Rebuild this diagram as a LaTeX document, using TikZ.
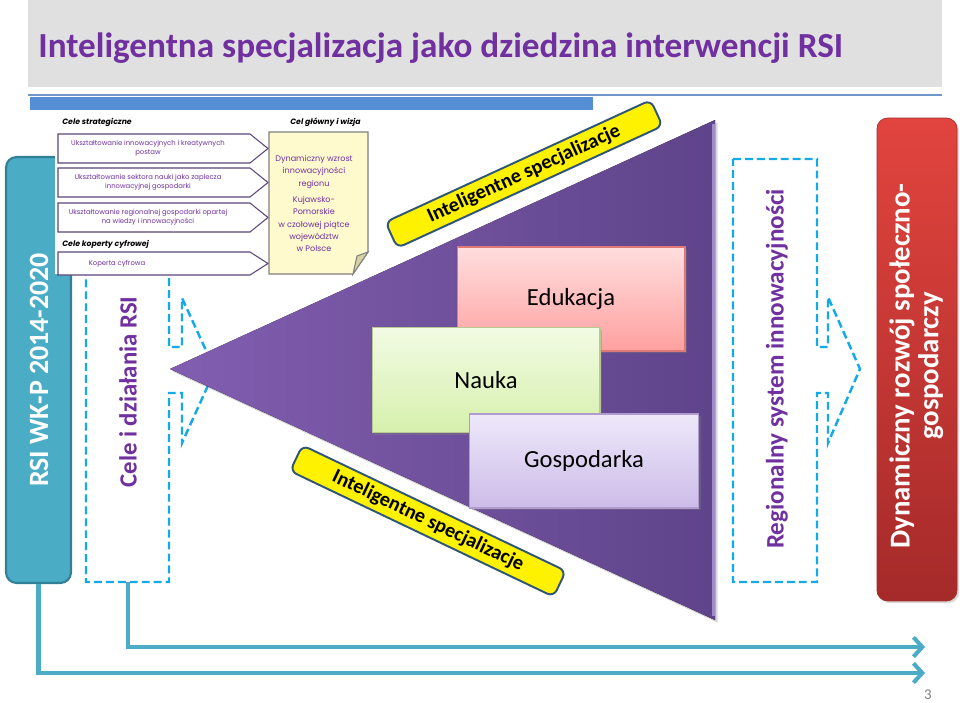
\documentclass[tikz,border=0pt]{standalone}
\usepackage{fontspec}
\usepackage{graphicx}
\setmainfont{Carlito}
\newfontfamily\gothic{Poppins}
\usetikzlibrary{arrows.meta,shadows,calc}
\definecolor{ttl}{RGB}{112,48,160}
\definecolor{graybar}{RGB}{224,224,224}
\definecolor{bluebar}{RGB}{85,142,213}
\definecolor{blueline}{RGB}{110,150,200}
\definecolor{tealc}{RGB}{75,172,198}
\definecolor{tealdark}{RGB}{49,128,150}
\definecolor{dashc}{RGB}{20,170,228}
\definecolor{triL}{RGB}{130,94,176}
\definecolor{triR}{RGB}{94,68,138}
\definecolor{triedge}{RGB}{160,140,200}
\definecolor{bannerb}{RGB}{47,85,120}
\definecolor{boxline}{RGB}{90,70,120}
\definecolor{notefill}{RGB}{255,250,205}
\definecolor{notefold}{RGB}{215,210,160}
\definecolor{redtop}{RGB}{226,68,62}
\definecolor{redbot}{RGB}{165,42,42}
\tikzset{
  dashbox/.style={draw=dashc, line width=1.4pt, dash pattern=on 4.5pt off 2.3pt},
  tealarrow/.style={draw=tealc, line width=2.3pt, -{Straight Barb[length=5pt,width=11pt]}},
  panelbox/.style={draw=boxline, line width=0.6pt, fill=white},
  paneltext/.style={text=ttl, font=\gothic\fontsize{3.9}{5.2}\selectfont, align=center, inner sep=0pt},
  panellabel/.style={font=\gothic\bfseries\itshape\fontsize{4.4}{5}\selectfont, anchor=west, inner sep=0pt},
  banner/.style={draw=bannerb, line width=1.1pt, fill=yellow, rounded corners=4pt,
     minimum width=5.84cm, minimum height=0.57cm, inner sep=0pt,
     font=\bfseries\fontsize{11.5}{12}\selectfont},
  fieldbox/.style={draw, line width=0.6pt, minimum width=4.56cm, inner sep=0pt,
     font=\fontsize{14}{16}\selectfont,
     drop shadow={shadow xshift=1.2pt, shadow yshift=-1.2pt, opacity=0.35}},
}
\begin{document}
\begin{tikzpicture}[x=0.02cm,y=-0.02cm]
\useasboundingbox (0,0) rectangle (960,703);
\fill[white] (0,0) rectangle (960,703);
% title
\fill[graybar] (28,0) rectangle (942,87);
\node[anchor=base west, inner sep=0pt, text=ttl] (title) at (38,57)
  {\resizebox{16.1cm}{!}{\bfseries Inteligentna specjalizacja jako dziedzina interwencji RSI}};
\draw[blueline, line width=1pt] (28,95) -- (942,95);
\fill[bluebar] (30,97) rectangle (593,110);
% teal box
\node[draw=tealdark, fill=tealc, line width=1.2pt, rounded corners=6pt,
  minimum width=1.3cm, minimum height=8.52cm, inner sep=0pt] (rsi) at (38.5,370) {};
\node[rotate=90, text=white, inner sep=0pt] (rsitext) at (39,370)
  {\resizebox{4.68cm}{!}{\bfseries RSI WK-P 2014-2020}};
% dashed box 1
\draw[dashbox] (86,158) -- (169,158) -- (169,347) -- (182,347) -- (182,298) -- (215,370)
  -- (182,443) -- (182,393) -- (169,393) -- (169,582) -- (86,582) -- cycle;
\node[rotate=90, text=ttl, inner sep=0pt] (celetext) at (128,392)
  {\resizebox{3.82cm}{!}{\bfseries Cele i działania RSI}};
\coordinate (celebot) at (128,582);
% white panel
\fill[white] (55,111) rectangle (372,274);
\node[panellabel] (lab1) at (62,122) {Cele strategiczne};
\node[panellabel] (lab2) at (290,122) {Cel główny i wizja};
\node[panellabel] (lab3) at (62,244) {Cele koperty cyfrowej};
\draw[panelbox] (58,134) -- (250,134) -- (268,148.5) -- (250,163) -- (58,163) -- cycle;
\draw[panelbox] (58,168) -- (250,168) -- (268,182.5) -- (250,197) -- (58,197) -- cycle;
\draw[panelbox] (58,203) -- (250,203) -- (268,217.5) -- (250,232) -- (58,232) -- cycle;
\draw[panelbox] (58,252) -- (250,252) -- (268,263.5) -- (250,275) -- (58,275) -- cycle;
\node[paneltext] (p1) at (148,148.5) {Ukształtowanie innowacyjnych i kreatywnych\\postaw};
\node[paneltext] (p2) at (148,182.5) {Ukształtowanie sektora nauki jako zaplecza\\innowacyjnej gospodarki};
\node[paneltext] (p3) at (148,217.5) {Ukształtowanie regionalnej gospodarki opartej\\na wiedzy i innowacyjności};
\node[paneltext] (p4) at (117,264) {Koperta cyfrowa};
% note
\draw[fill=notefill, draw=gray, line width=0.6pt] (269,132) -- (368,132) -- (368,252) -- (353,274) -- (269,274) -- cycle;
\draw[fill=notefold, draw=gray, line width=0.6pt] (353,274) -- (357,256) -- (368,252) -- cycle;
\node[paneltext, font=\gothic\fontsize{4.6}{6.9}\selectfont] (n1) at (314,172) {Dynamiczny wzrost\\innowacyjności\\regionu};
\node[paneltext, font=\gothic\fontsize{4.6}{6.9}\selectfont] (n2) at (314,224) {Kujawsko-\\Pomorskie\\w czołowej piątce\\województw\\w Polsce};
% triangle
\fill[left color=triL, right color=triR, drop shadow={shadow xshift=1.5pt, shadow yshift=-1.5pt, opacity=0.3}]
  (170,369) -- (715,120) -- (715,620) -- cycle;
\draw[triedge, line width=1.3pt] (713.5,124) -- (713.5,616);
% banners
\node[banner, rotate=24.7] (ban1) at (524,174) {Inteligentne specjalizacje};
\node[banner, rotate=-25.5] (ban2) at (428,521) {Inteligentne specjalizacje};
% field boxes
\node[fieldbox, draw={rgb,255:red,225;green,120;blue,120}, top color={rgb,255:red,255;green,222;blue,222},
  bottom color={rgb,255:red,255;green,160;blue,160}, minimum height=2.08cm] (edu) at (571,299) {Edukacja};
\node[fieldbox, draw={rgb,255:red,185;green,200;blue,145}, top color={rgb,255:red,242;green,251;blue,228},
  bottom color={rgb,255:red,214;green,240;blue,172}, minimum height=2.1cm] (nauka) at (486,380) {Nauka};
\node[fieldbox, draw={rgb,255:red,175;green,155;blue,205}, top color={rgb,255:red,238;green,232;blue,250},
  bottom color={rgb,255:red,204;green,188;blue,232}, minimum width=4.58cm, minimum height=1.88cm] (gosp) at (584,461) {Gospodarka};
% dashed box 2
\draw[dashbox] (733,159) -- (817,159) -- (817,347) -- (828,347) -- (828,297) -- (860,369)
  -- (828,443) -- (828,393) -- (817,393) -- (817,582) -- (733,582) -- cycle;
\node[rotate=90, text=ttl, inner sep=0pt] (rsitext2) at (777,369)
  {\resizebox{7.2cm}{!}{\bfseries Regionalny system innowacyjności}};
% red box
\node[top color=redtop, bottom color=redbot, draw=redbot, rounded corners=6pt,
  minimum width=1.6cm, minimum height=9.66cm, inner sep=0pt,
  drop shadow={shadow xshift=1.2pt, shadow yshift=-1.2pt, opacity=0.3}] (red) at (917,359.5) {};
\node[rotate=90, text=white, inner sep=0pt, align=center] (redtext) at (917,366)
  {\resizebox{7.3cm}{!}{\bfseries\begin{tabular}{@{}c@{}}Dynamiczny rozwój społeczno-\\[-2pt]gospodarczy\end{tabular}}};
% arrows
\coordinate (end1) at (925,647);
\coordinate (end2) at (925,673);
\draw[tealarrow] (celebot) |- (end1);
\draw[tealarrow] (rsi.south) |- (end2);
\node[text=gray, font=\fontsize{8.5}{9}\selectfont] (pnum) at (928,695) {3};
\end{tikzpicture}
\end{document}
